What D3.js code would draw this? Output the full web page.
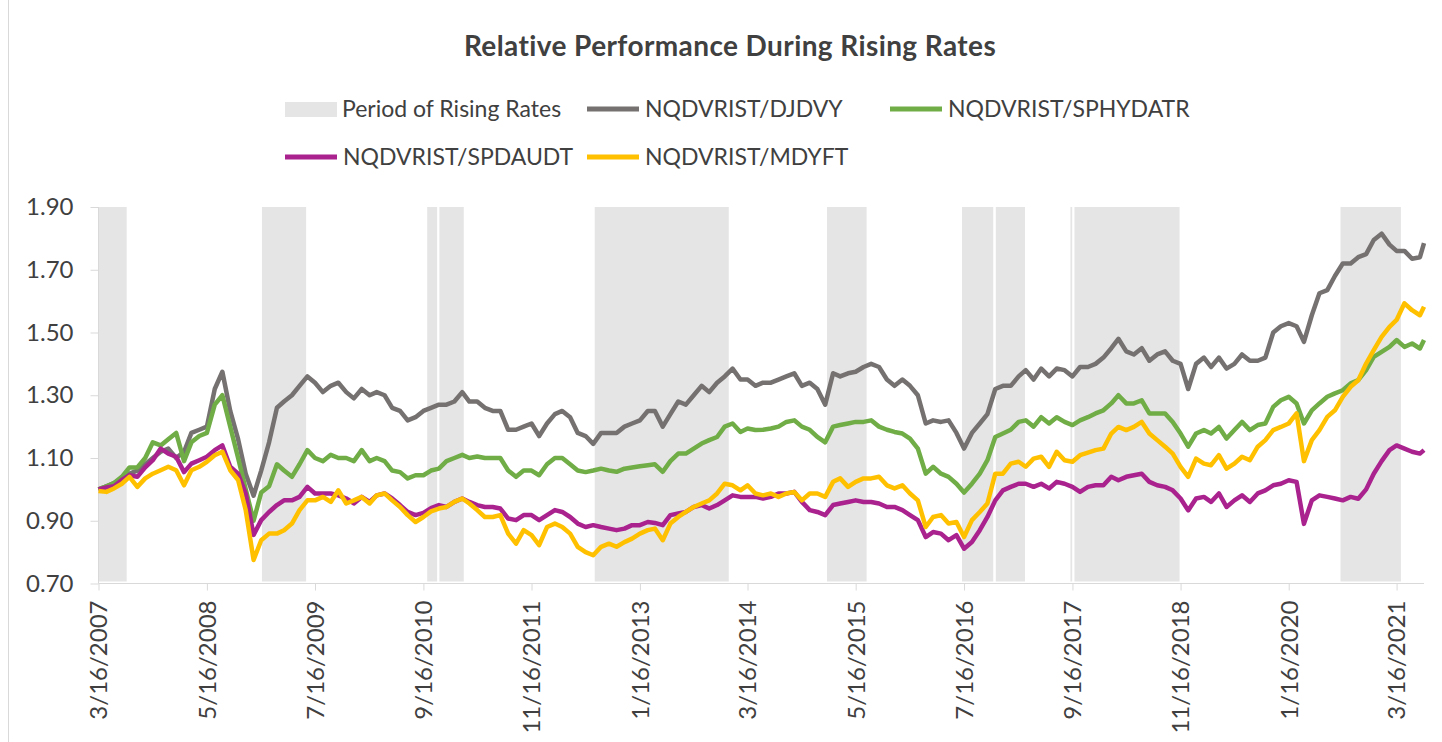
<!DOCTYPE html>
<html>
<head>
<meta charset="utf-8">
<script src="https://cdn.jsdelivr.net/npm/d3@7"></script>
<style>
  body { margin: 0; background: #fff; }
  text { font-family: Lato, "Open Sans", sans-serif; fill: #404040; }
</style>
</head>
<body>
<div id="chart"></div>
<script>
// monthly observations (16th of each month) + last day of data
var months = [
  "2007-03","2007-04","2007-05","2007-06","2007-07","2007-08","2007-09","2007-10","2007-11","2007-12",
  "2008-01","2008-02","2008-03","2008-04","2008-05","2008-06","2008-07","2008-08","2008-09","2008-10","2008-11","2008-12",
  "2009-01","2009-02","2009-03","2009-04","2009-05","2009-06","2009-07","2009-08","2009-09","2009-10","2009-11","2009-12",
  "2010-01","2010-02","2010-03","2010-04","2010-05","2010-06","2010-07","2010-08","2010-09","2010-10","2010-11","2010-12",
  "2011-01","2011-02","2011-03","2011-04","2011-05","2011-06","2011-07","2011-08","2011-09","2011-10","2011-11","2011-12",
  "2012-01","2012-02","2012-03","2012-04","2012-05","2012-06","2012-07","2012-08","2012-09","2012-10","2012-11","2012-12",
  "2013-01","2013-02","2013-03","2013-04","2013-05","2013-06","2013-07","2013-08","2013-09","2013-10","2013-11","2013-12",
  "2014-01","2014-02","2014-03","2014-04","2014-05","2014-06","2014-07","2014-08","2014-09","2014-10","2014-11","2014-12",
  "2015-01","2015-02","2015-03","2015-04","2015-05","2015-06","2015-07","2015-08","2015-09","2015-10","2015-11","2015-12",
  "2016-01","2016-02","2016-03","2016-04","2016-05","2016-06","2016-07","2016-08","2016-09","2016-10","2016-11","2016-12",
  "2017-01","2017-02","2017-03","2017-04","2017-05","2017-06","2017-07","2017-08","2017-09","2017-10","2017-11","2017-12",
  "2018-01","2018-02","2018-03","2018-04","2018-05","2018-06","2018-07","2018-08","2018-09","2018-10","2018-11","2018-12",
  "2019-01","2019-02","2019-03","2019-04","2019-05","2019-06","2019-07","2019-08","2019-09","2019-10","2019-11","2019-12",
  "2020-01","2020-02","2020-03","2020-04","2020-05","2020-06","2020-07","2020-08","2020-09","2020-10","2020-11","2020-12",
  "2021-01","2021-02","2021-03","2021-04","2021-05","2021-06"
]
var lastDay = "2021-07-02"

var djdvy = [
  1.00,1.01,1.02,1.035,1.05,1.06,1.08,1.10,1.12,1.13,
  1.10,1.12,1.18,1.19,1.20,1.32,1.375,1.25,1.16,1.05,0.98,1.06,
  1.15,1.26,1.28,1.30,1.33,1.36,1.34,1.31,1.33,1.34,1.31,1.29,
  1.32,1.30,1.31,1.30,1.26,1.25,1.22,1.23,1.25,1.26,1.27,1.27,
  1.28,1.31,1.28,1.28,1.26,1.25,1.25,1.19,1.19,1.20,1.21,1.17,
  1.21,1.24,1.25,1.23,1.18,1.17,1.145,1.18,1.18,1.18,1.20,1.21,
  1.22,1.25,1.25,1.20,1.24,1.28,1.27,1.30,1.33,1.31,1.34,1.36,
  1.385,1.35,1.35,1.33,1.34,1.34,1.35,1.36,1.37,1.33,1.34,1.32,
  1.27,1.37,1.36,1.37,1.375,1.39,1.40,1.39,1.35,1.33,1.35,1.33,
  1.30,1.21,1.22,1.215,1.22,1.18,1.13,1.18,1.21,1.24,1.32,1.33,
  1.33,1.36,1.38,1.35,1.385,1.36,1.385,1.38,1.36,1.39,1.39,1.40,
  1.42,1.45,1.48,1.44,1.43,1.45,1.41,1.43,1.44,1.41,1.40,1.32,
  1.40,1.42,1.39,1.42,1.385,1.40,1.43,1.41,1.41,1.42,1.50,1.52,
  1.53,1.52,1.47,1.555,1.625,1.635,1.68,1.72,1.72,1.74,1.75,1.795,
  1.815,1.78,1.76,1.76,1.735,1.74,1.785
]
var sphydatr = [
  1.00,1.01,1.02,1.04,1.07,1.07,1.10,1.15,1.14,1.16,
  1.18,1.09,1.15,1.17,1.18,1.27,1.30,1.20,1.10,1.00,0.90,0.99,
  1.01,1.08,1.06,1.04,1.08,1.125,1.10,1.09,1.11,1.10,1.10,1.09,
  1.125,1.09,1.10,1.09,1.06,1.055,1.035,1.045,1.045,1.06,1.066,1.09,
  1.10,1.11,1.10,1.105,1.10,1.10,1.10,1.06,1.04,1.06,1.06,1.045,
  1.08,1.10,1.10,1.08,1.06,1.055,1.06,1.066,1.06,1.056,1.066,1.07,
  1.074,1.077,1.08,1.056,1.09,1.114,1.114,1.13,1.146,1.157,1.167,1.20,
  1.21,1.183,1.194,1.189,1.19,1.194,1.20,1.215,1.22,1.20,1.19,1.167,
  1.15,1.20,1.205,1.21,1.215,1.215,1.22,1.20,1.19,1.183,1.178,1.162,
  1.13,1.05,1.072,1.05,1.04,1.018,0.99,1.018,1.05,1.093,1.167,1.178,
  1.19,1.215,1.22,1.20,1.23,1.21,1.23,1.215,1.205,1.22,1.23,1.242,
  1.252,1.274,1.30,1.274,1.274,1.284,1.242,1.242,1.242,1.215,1.178,1.136,
  1.178,1.189,1.178,1.199,1.162,1.189,1.215,1.189,1.205,1.21,1.263,1.284,
  1.295,1.274,1.21,1.252,1.274,1.295,1.306,1.316,1.338,1.348,1.38,1.422,
  1.438,1.454,1.476,1.454,1.465,1.449,1.476
]
var spdaudt = [
  1.00,1.006,1.01,1.03,1.045,1.04,1.07,1.093,1.13,1.114,
  1.104,1.055,1.082,1.093,1.104,1.125,1.14,1.072,1.05,0.987,0.855,0.902,
  0.928,0.95,0.965,0.965,0.976,1.008,0.987,0.987,0.987,0.981,0.971,0.955,
  0.976,0.96,0.981,0.987,0.971,0.95,0.928,0.918,0.925,0.94,0.95,0.944,
  0.96,0.971,0.96,0.95,0.944,0.944,0.939,0.907,0.902,0.918,0.918,0.902,
  0.918,0.934,0.928,0.912,0.891,0.88,0.886,0.88,0.875,0.87,0.875,0.886,
  0.886,0.896,0.893,0.886,0.918,0.923,0.928,0.944,0.95,0.939,0.95,0.965,
  0.981,0.976,0.976,0.976,0.971,0.976,0.987,0.987,0.992,0.96,0.934,0.928,
  0.918,0.95,0.955,0.96,0.965,0.96,0.96,0.955,0.944,0.944,0.934,0.918,
  0.902,0.848,0.864,0.859,0.838,0.854,0.811,0.832,0.87,0.912,0.965,0.997,
  1.008,1.018,1.018,1.008,1.018,1.003,1.024,1.018,1.008,0.992,1.008,1.013,
  1.013,1.04,1.029,1.04,1.045,1.05,1.024,1.013,1.008,0.997,0.971,0.933,
  0.971,0.976,0.96,0.987,0.944,0.965,0.981,0.96,0.987,0.997,1.013,1.018,
  1.029,1.024,0.89,0.965,0.981,0.976,0.971,0.965,0.976,0.97,1.00,1.05,
  1.09,1.125,1.14,1.13,1.12,1.114,1.125
]
var mdyft = [
  0.995,0.992,1.003,1.018,1.04,1.008,1.035,1.05,1.061,1.072,
  1.061,1.013,1.061,1.072,1.088,1.109,1.12,1.061,1.03,0.934,0.775,0.838,
  0.859,0.859,0.87,0.891,0.934,0.965,0.965,0.976,0.96,0.997,0.955,0.965,
  0.976,0.955,0.981,0.987,0.965,0.944,0.918,0.896,0.912,0.93,0.939,0.944,
  0.96,0.971,0.955,0.934,0.912,0.912,0.918,0.859,0.827,0.87,0.854,0.822,
  0.88,0.891,0.88,0.859,0.817,0.80,0.79,0.817,0.827,0.817,0.832,0.843,
  0.859,0.87,0.875,0.838,0.891,0.912,0.928,0.944,0.955,0.965,0.987,1.018,
  1.013,0.997,1.013,0.987,0.981,0.987,0.976,0.987,0.992,0.965,0.987,0.987,
  0.976,1.024,1.035,1.008,1.024,1.035,1.035,1.04,1.013,1.003,1.013,0.987,
  0.965,0.88,0.912,0.918,0.891,0.896,0.848,0.902,0.928,0.955,1.05,1.05,
  1.082,1.088,1.072,1.098,1.104,1.072,1.12,1.093,1.088,1.109,1.117,1.125,
  1.13,1.178,1.199,1.189,1.199,1.215,1.178,1.157,1.136,1.114,1.072,1.04,
  1.098,1.082,1.077,1.109,1.066,1.082,1.104,1.093,1.136,1.157,1.189,1.199,
  1.21,1.242,1.09,1.157,1.189,1.231,1.252,1.295,1.327,1.348,1.401,1.444,
  1.486,1.518,1.54,1.593,1.571,1.555,1.582
]

// periods of rising rates (shaded columns)
var riseStart = ["2007-03-16","2008-12-19","2010-10-01","2010-11-18","2012-07-22","2015-01-23","2016-07-08","2016-11-18","2017-09-08","2017-09-24","2020-08-07"]
var riseEnd   = ["2007-07-05","2009-06-11","2010-11-09","2011-02-22","2014-01-01","2015-06-28","2016-11-08","2017-03-13","2017-09-15","2018-11-12","2021-04-02"]

var xTicks = ["3/16/2007","5/16/2008","7/16/2009","9/16/2010","11/16/2011","1/16/2013","3/16/2014",
              "5/16/2015","7/16/2016","9/16/2017","11/16/2018","1/16/2020","3/16/2021"]
var yTicks = [0.70, 0.90, 1.10, 1.30, 1.50, 1.70, 1.90]

var seriesNames = ["NQDVRIST/DJDVY", "NQDVRIST/SPHYDATR", "NQDVRIST/SPDAUDT", "NQDVRIST/MDYFT"]
var seriesColors = ["#767171", "#70AD47", "#A9228E", "#FFC000"]
var seriesValues = [djdvy, sphydatr, spdaudt, mdyft]

var W = 1442, H = 742
var plot = {left: 98.5, right: 1424, top: 207, bottom: 583.5}

var parseDay = d3.timeParse("%Y-%m-%d")
var parseTick = d3.timeParse("%m/%d/%Y")
var dates = months.map(function(m) { return parseDay(m + "-16") }).concat([parseDay(lastDay)])

var svg = d3.select("#chart")
    .append("svg")
    .attr("width", W)
    .attr("height", H)

// chart border (left edge visible)
svg.append("line")
    .attr("x1", 8.5).attr("x2", 8.5)
    .attr("y1", 0).attr("y2", H)
    .attr("stroke", "#D9D9D9")

var x = d3.scaleTime()
    .domain([parseDay("2007-03-16"), parseDay(lastDay)])
    .range([plot.left, plot.right])

var y = d3.scaleLinear()
    .domain([0.70, 1.90])
    .range([plot.bottom, plot.top])

// shaded periods
svg.append("g")
    .selectAll("rect")
    .data(riseStart)
    .join("rect")
    .attr("x", function(d) { return x(parseDay(d)) })
    .attr("width", function(d, i) { return x(parseDay(riseEnd[i])) - x(parseDay(d)) })
    .attr("y", y(1.90))
    .attr("height", y(0.70) - y(1.90) - 2)
    .attr("fill", "#E5E5E5")

// Y axis
var yAxis = svg.append("g")
    .attr("transform", "translate(" + plot.left + ",0)")
    .call(d3.axisLeft(y).tickValues(yTicks).tickFormat(d3.format(".2f")).tickSize(8).tickPadding(17))
yAxis.selectAll("path, line").attr("stroke", "#D9D9D9")
yAxis.selectAll("text").style("font-size", "24px").attr("fill", "#404040")
yAxis.select(".domain").attr("d", "M0," + plot.top + "V" + plot.bottom)

// X axis
var xAxis = svg.append("g")
    .attr("transform", "translate(0," + plot.bottom + ")")
    .call(d3.axisBottom(x).tickValues(xTicks.map(parseTick)).tickFormat(d3.timeFormat("%-m/%-d/%Y")).tickSize(7))
xAxis.selectAll("path, line").attr("stroke", "#D9D9D9")
xAxis.select(".domain").attr("d", "M" + plot.left + ",0H" + plot.right)
xAxis.selectAll("text")
    .style("font-size", "24px")
    .attr("fill", "#404040")
    .attr("transform", "rotate(-90)")
    .attr("x", -17)
    .attr("y", 0)
    .attr("dy", "0.35em")
    .style("text-anchor", "end")

// Lines
var line = d3.line()
    .x(function(d) { return x(d[0]) })
    .y(function(d) { return y(d[1]) })

seriesValues.forEach(function(vals, i) {
    svg.append("path")
        .datum(dates.map(function(d, j) { return [d, vals[j]] }))
        .attr("fill", "none")
        .attr("stroke", seriesColors[i])
        .attr("stroke-width", 4.5)
        .attr("stroke-linejoin", "round")
        .attr("d", line)
})

// Title
svg.append("text")
    .attr("x", 730)
    .attr("y", 56)
    .attr("text-anchor", "middle")
    .style("font-size", "28px")
    .style("letter-spacing", "0.4px")
    .style("font-weight", "bold")
    .text("Relative Performance During Rising Rates")

// Legend
var legend = svg.append("g").style("font-size", "23px")
legend.append("rect")
    .attr("x", 285).attr("y", 102)
    .attr("width", 52).attr("height", 15)
    .attr("fill", "#E5E5E5")
legend.append("text").attr("x", 342).attr("y", 117).text("Period of Rising Rates")

var legendPos = [[587, 109], [890, 109], [285, 157], [587, 157]]
seriesNames.forEach(function(name, i) {
    var p = legendPos[i]
    legend.append("line")
        .attr("x1", p[0]).attr("x2", p[0] + 52)
        .attr("y1", p[1]).attr("y2", p[1])
        .attr("stroke", seriesColors[i])
        .attr("stroke-width", 5)
    legend.append("text")
        .attr("x", p[0] + 58)
        .attr("y", p[1] + 8)
        .text(name)
})
</script>
</body>
</html>
